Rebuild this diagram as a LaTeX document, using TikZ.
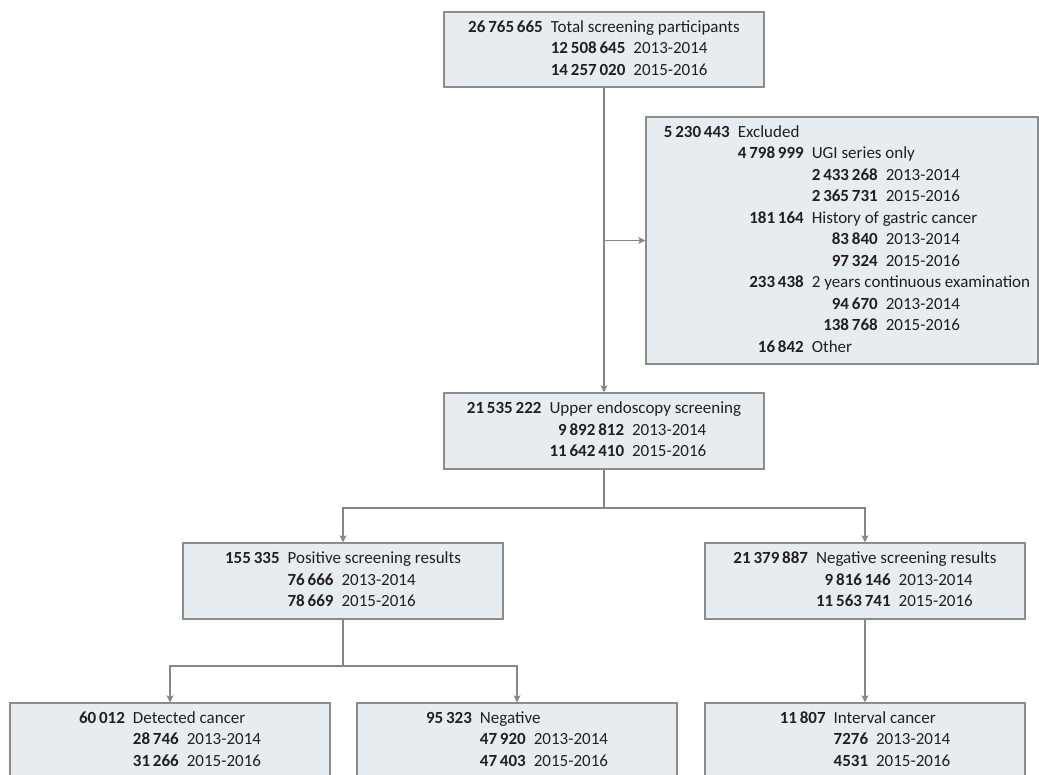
\documentclass[tikz,border=0pt]{standalone}
\usepackage{fontspec}
\setmainfont{Carlito}
\usepackage{tikz}
\usetikzlibrary{arrows.meta}
\definecolor{boxfill}{RGB}{230,236,240}
\definecolor{boxline}{RGB}{140,140,140}
\definecolor{linkline}{RGB}{135,135,135}
\definecolor{ink}{RGB}{35,31,32}
\setlength{\tabcolsep}{0pt}
\begin{document}
\begin{tikzpicture}[x=1pt,y=-1pt,
  box/.style={draw=boxline,line width=1.3pt,fill=boxfill,minimum width=320pt,minimum height=75pt,inner sep=0pt,text=ink,font=\fontsize{17}{21.5}\selectfont},
  link/.style={draw=linkline,line width=1.2pt},
  arr/.style={link,-{Stealth[length=7pt,width=7pt,inset=1.5pt]}}]
\useasboundingbox (0,0) rectangle (1039,775);
\clip (0,0) rectangle (1039,775);
\node[box] (top) at (604,49.5) {\begin{tabular}{r@{\hspace{8pt}}r@{\hspace{8pt}}l}
\textbf{26\,765\,665} & \multicolumn{2}{l}{Total screening participants}\\
& \textbf{12\,508\,645} & 2013-2014\\
& \textbf{14\,257\,020} & 2015-2016
\end{tabular}};
\node[box,minimum width=392pt,minimum height=247pt] (excl) at (842,240.5) {\hspace*{10pt}\begin{tabular}{r@{\hspace{8pt}}r@{\hspace{8pt}}r@{\hspace{8pt}}l}
\textbf{5\,230\,443} & \multicolumn{3}{l}{Excluded}\\
& \textbf{4\,798\,999} & \multicolumn{2}{l}{UGI series only}\\
& & \textbf{2\,433\,268} & 2013-2014\\
& & \textbf{2\,365\,731} & 2015-2016\\
& \textbf{181\,164} & \multicolumn{2}{l}{History of gastric cancer}\\
& & \textbf{83\,840} & 2013-2014\\
& & \textbf{97\,324} & 2015-2016\\
& \textbf{233\,438} & \multicolumn{2}{l}{2 years continuous examination}\\
& & \textbf{94\,670} & 2013-2014\\
& & \textbf{138\,768} & 2015-2016\\
& \textbf{16\,842} & \multicolumn{2}{l}{Other}
\end{tabular}};
\node[box,minimum height=76pt] (mid) at (604,431) {\begin{tabular}{r@{\hspace{8pt}}r@{\hspace{8pt}}l}
\textbf{21\,535\,222} & \multicolumn{2}{l}{Upper endoscopy screening}\\
& \textbf{9\,892\,812} & 2013-2014\\
& \textbf{11\,642\,410} & 2015-2016
\end{tabular}};
\node[box,minimum height=76pt] (pos) at (343,581) {\begin{tabular}{r@{\hspace{8pt}}r@{\hspace{8pt}}l}
\textbf{155\,335} & \multicolumn{2}{l}{Positive screening results}\\
& \textbf{76\,666} & 2013-2014\\
& \textbf{78\,669} & 2015-2016
\end{tabular}};
\node[box,minimum height=76pt] (neg) at (865,581) {\begin{tabular}{r@{\hspace{8pt}}r@{\hspace{8pt}}l}
\textbf{21\,379\,887} & \multicolumn{2}{l}{Negative screening results}\\
& \textbf{9\,816\,146} & 2013-2014\\
& \textbf{11\,563\,741} & 2015-2016
\end{tabular}};
\node[box] (det) at (170,740.5) {\begin{tabular}{r@{\hspace{8pt}}r@{\hspace{8pt}}l}
\textbf{60\,012} & \multicolumn{2}{l}{Detected cancer}\\
& \textbf{28\,746} & 2013-2014\\
& \textbf{31\,266} & 2015-2016
\end{tabular}};
\node[box] (nres) at (517,740.5) {\begin{tabular}{r@{\hspace{8pt}}r@{\hspace{8pt}}l}
\textbf{95\,323} & \multicolumn{2}{l}{Negative}\\
& \textbf{47\,920} & 2013-2014\\
& \textbf{47\,403} & 2015-2016
\end{tabular}};
\node[box] (intv) at (865,740.5) {\begin{tabular}{r@{\hspace{8pt}}r@{\hspace{8pt}}l}
\textbf{11\,807} & \multicolumn{2}{l}{Interval cancer}\\
& \textbf{7276} & 2013-2014\\
& \textbf{4531} & 2015-2016
\end{tabular}};
\coordinate (s1) at (604,508);
\coordinate (s2) at (343,666);
\draw[arr] (top.south) -- (mid.north);
\draw[arr] (top.south |- excl.west) -- (excl.west);
\draw[arr] (mid.south) -- (s1) -| (pos.north);
\draw[arr] (s1) -| (neg.north);
\draw[arr] (pos.south) -- (s2) -| (det.north);
\draw[arr] (s2) -| (nres.north);
\draw[arr] (neg.south) -- (intv.north);
\end{tikzpicture}
\end{document}
